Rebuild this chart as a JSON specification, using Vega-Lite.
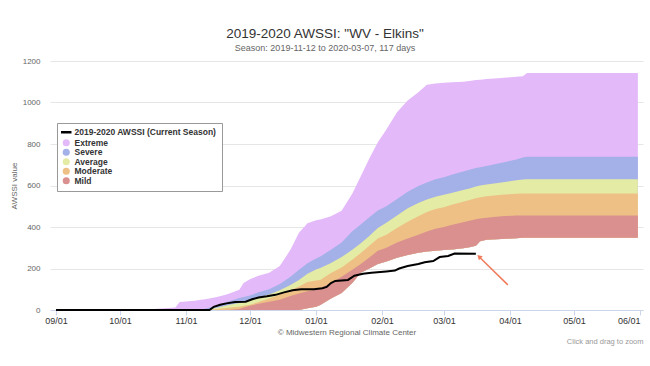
{
  "$schema": "https://vega.github.io/schema/vega-lite/v6.json",
  "width": 593,
  "height": 249,
  "autosize": {"type": "none"},
  "padding": {"left": 50, "top": 61, "right": 7, "bottom": 56},
  "background": "white",
  "title": {
    "text": "2019-2020 AWSSI: \"WV - Elkins\"",
    "subtitle": "Season: 2019-11-12 to 2020-03-07, 117 days"
  },
  "config": {
    "font": "Liberation Sans",
    "view": {"stroke": null},
    "title": {"fontSize": 13.5, "fontWeight": "normal", "color": "#333333", "subtitleFontSize": 9, "subtitleColor": "#666666", "anchor": "middle", "dx": -21.5, "offset": 4, "subtitlePadding": 4},
    "axisY": {"domain": false, "ticks": false, "tickSize": 0, "labelFontSize": 8, "labelColor": "#666666", "labelPadding": 10, "gridColor": "#e6e6e6", "titleFontSize": 8, "titleFontWeight": "normal", "titleColor": "#666666", "titlePadding": 4, "tickCount": 6, "format": "d"},
    "axisX": {"grid": false, "domainColor": "#ccd6eb", "tickColor": "#ccd6eb", "tickSize": 5, "labelFontSize": 9, "labelColor": "#333333", "labelPadding": 1, "titleFontSize": 8, "titleFontWeight": "normal", "titleColor": "#666666", "titlePadding": 3}
  },
  "datasets": {
    "bands": [
      {"date": "2019-09-01T00:00:00", "extreme": 0, "severe": 0, "average": 0, "moderate": 0, "mild": 0, "floor": 0},
      {"date": "2019-10-08T00:00:00", "extreme": 0, "severe": 0, "average": 0, "moderate": 0, "mild": 0, "floor": 0},
      {"date": "2019-10-15T00:00:00", "extreme": 4, "severe": 0, "average": 0, "moderate": 0, "mild": 0, "floor": 0},
      {"date": "2019-10-22T00:00:00", "extreme": 8, "severe": 0, "average": 0, "moderate": 0, "mild": 0, "floor": 0},
      {"date": "2019-10-27T00:00:00", "extreme": 12, "severe": 0, "average": 0, "moderate": 0, "mild": 0, "floor": 0},
      {"date": "2019-10-29T00:00:00", "extreme": 38, "severe": 0, "average": 0, "moderate": 0, "mild": 0, "floor": 0},
      {"date": "2019-11-02T00:00:00", "extreme": 42, "severe": 0, "average": 0, "moderate": 0, "mild": 0, "floor": 0},
      {"date": "2019-11-05T00:00:00", "extreme": 45, "severe": 1, "average": 0, "moderate": 0, "mild": 0, "floor": 0},
      {"date": "2019-11-08T00:00:00", "extreme": 50, "severe": 4, "average": 1, "moderate": 0, "mild": 0, "floor": 0},
      {"date": "2019-11-10T00:00:00", "extreme": 52, "severe": 6, "average": 3, "moderate": 0, "mild": 0, "floor": 0},
      {"date": "2019-11-15T00:00:00", "extreme": 62, "severe": 20, "average": 10, "moderate": 4, "mild": 0, "floor": 0},
      {"date": "2019-11-20T00:00:00", "extreme": 75, "severe": 38, "average": 22, "moderate": 10, "mild": 0, "floor": 0},
      {"date": "2019-11-22T00:00:00", "extreme": 82, "severe": 45, "average": 26, "moderate": 12, "mild": 1, "floor": 0},
      {"date": "2019-11-26T00:00:00", "extreme": 98, "severe": 58, "average": 34, "moderate": 16, "mild": 5, "floor": 0},
      {"date": "2019-11-28T00:00:00", "extreme": 130, "severe": 63, "average": 40, "moderate": 20, "mild": 12, "floor": 0},
      {"date": "2019-12-01T00:00:00", "extreme": 148, "severe": 70, "average": 45, "moderate": 25, "mild": 20, "floor": 0},
      {"date": "2019-12-05T00:00:00", "extreme": 165, "severe": 85, "average": 60, "moderate": 38, "mild": 30, "floor": 0},
      {"date": "2019-12-10T00:00:00", "extreme": 180, "severe": 100, "average": 75, "moderate": 55, "mild": 40, "floor": 0},
      {"date": "2019-12-15T00:00:00", "extreme": 212, "severe": 125, "average": 95, "moderate": 75, "mild": 50, "floor": 0},
      {"date": "2019-12-20T00:00:00", "extreme": 290, "severe": 160, "average": 120, "moderate": 95, "mild": 68, "floor": 0},
      {"date": "2019-12-24T00:00:00", "extreme": 372, "severe": 194, "average": 145, "moderate": 113, "mild": 80, "floor": 0},
      {"date": "2019-12-28T00:00:00", "extreme": 418, "severe": 225, "average": 175, "moderate": 135, "mild": 90, "floor": 8},
      {"date": "2020-01-01T00:00:00", "extreme": 432, "severe": 248, "average": 195, "moderate": 142, "mild": 100, "floor": 16},
      {"date": "2020-01-03T00:00:00", "extreme": 436, "severe": 258, "average": 203, "moderate": 145, "mild": 106, "floor": 24},
      {"date": "2020-01-08T00:00:00", "extreme": 452, "severe": 290, "average": 227, "moderate": 178, "mild": 130, "floor": 55},
      {"date": "2020-01-13T00:00:00", "extreme": 478, "severe": 325, "average": 255, "moderate": 205, "mild": 160, "floor": 82},
      {"date": "2020-01-18T00:00:00", "extreme": 560, "severe": 379, "average": 290, "moderate": 242, "mild": 194, "floor": 130},
      {"date": "2020-01-22T00:00:00", "extreme": 645, "severe": 412, "average": 322, "moderate": 275, "mild": 222, "floor": 179},
      {"date": "2020-01-26T00:00:00", "extreme": 730, "severe": 447, "average": 357, "moderate": 310, "mild": 253, "floor": 200},
      {"date": "2020-01-30T00:00:00", "extreme": 808, "severe": 480, "average": 395, "moderate": 345, "mild": 285, "floor": 222},
      {"date": "2020-02-03T00:00:00", "extreme": 870, "severe": 500, "average": 420, "moderate": 363, "mild": 300, "floor": 234},
      {"date": "2020-02-08T00:00:00", "extreme": 953, "severe": 535, "average": 455, "moderate": 395, "mild": 325, "floor": 252},
      {"date": "2020-02-13T00:00:00", "extreme": 1010, "severe": 570, "average": 490, "moderate": 425, "mild": 345, "floor": 265},
      {"date": "2020-02-18T00:00:00", "extreme": 1050, "severe": 597, "average": 516, "moderate": 452, "mild": 363, "floor": 276},
      {"date": "2020-02-22T00:00:00", "extreme": 1085, "severe": 615, "average": 533, "moderate": 472, "mild": 378, "floor": 282},
      {"date": "2020-02-26T00:00:00", "extreme": 1092, "severe": 630, "average": 546, "moderate": 487, "mild": 392, "floor": 286},
      {"date": "2020-03-01T00:00:00", "extreme": 1095, "severe": 640, "average": 555, "moderate": 495, "mild": 400, "floor": 289},
      {"date": "2020-03-05T00:00:00", "extreme": 1098, "severe": 653, "average": 565, "moderate": 508, "mild": 411, "floor": 292},
      {"date": "2020-03-10T00:00:00", "extreme": 1100, "severe": 668, "average": 578, "moderate": 522, "mild": 423, "floor": 298},
      {"date": "2020-03-13T00:00:00", "extreme": 1104, "severe": 676, "average": 586, "moderate": 530, "mild": 430, "floor": 302},
      {"date": "2020-03-16T00:00:00", "extreme": 1108, "severe": 684, "average": 595, "moderate": 538, "mild": 437, "floor": 310},
      {"date": "2020-03-18T00:00:00", "extreme": 1110, "severe": 688, "average": 600, "moderate": 543, "mild": 441, "floor": 331},
      {"date": "2020-03-21T00:00:00", "extreme": 1113, "severe": 694, "average": 605, "moderate": 548, "mild": 444, "floor": 339},
      {"date": "2020-03-28T00:00:00", "extreme": 1118, "severe": 710, "average": 615, "moderate": 556, "mild": 452, "floor": 342},
      {"date": "2020-04-04T00:00:00", "extreme": 1124, "severe": 725, "average": 625, "moderate": 560, "mild": 455, "floor": 346},
      {"date": "2020-04-07T00:00:00", "extreme": 1126, "severe": 735, "average": 629, "moderate": 561, "mild": 455, "floor": 348},
      {"date": "2020-04-09T00:00:00", "extreme": 1142, "severe": 739, "average": 630, "moderate": 561, "mild": 455, "floor": 348},
      {"date": "2020-05-31T00:00:00", "extreme": 1142, "severe": 739, "average": 630, "moderate": 561, "mild": 455, "floor": 348}
    ],
    "current": [
      {"date": "2019-09-01T00:00:00", "awssi": 0},
      {"date": "2019-11-12T00:00:00", "awssi": 0},
      {"date": "2019-11-14T00:00:00", "awssi": 15},
      {"date": "2019-11-17T00:00:00", "awssi": 25},
      {"date": "2019-11-20T00:00:00", "awssi": 32},
      {"date": "2019-11-24T00:00:00", "awssi": 38},
      {"date": "2019-11-29T00:00:00", "awssi": 40},
      {"date": "2019-12-02T00:00:00", "awssi": 52},
      {"date": "2019-12-05T00:00:00", "awssi": 60},
      {"date": "2019-12-09T00:00:00", "awssi": 66},
      {"date": "2019-12-13T00:00:00", "awssi": 73},
      {"date": "2019-12-17T00:00:00", "awssi": 85},
      {"date": "2019-12-21T00:00:00", "awssi": 95},
      {"date": "2019-12-25T00:00:00", "awssi": 100},
      {"date": "2019-12-31T00:00:00", "awssi": 100},
      {"date": "2020-01-04T00:00:00", "awssi": 105},
      {"date": "2020-01-06T00:00:00", "awssi": 111},
      {"date": "2020-01-08T00:00:00", "awssi": 130},
      {"date": "2020-01-10T00:00:00", "awssi": 140},
      {"date": "2020-01-16T00:00:00", "awssi": 145},
      {"date": "2020-01-19T00:00:00", "awssi": 165},
      {"date": "2020-01-23T00:00:00", "awssi": 175},
      {"date": "2020-01-27T00:00:00", "awssi": 180},
      {"date": "2020-02-03T00:00:00", "awssi": 186},
      {"date": "2020-02-07T00:00:00", "awssi": 190},
      {"date": "2020-02-09T00:00:00", "awssi": 200},
      {"date": "2020-02-13T00:00:00", "awssi": 212},
      {"date": "2020-02-18T00:00:00", "awssi": 222},
      {"date": "2020-02-21T00:00:00", "awssi": 230},
      {"date": "2020-02-25T00:00:00", "awssi": 236},
      {"date": "2020-02-28T00:00:00", "awssi": 255},
      {"date": "2020-03-03T00:00:00", "awssi": 260},
      {"date": "2020-03-06T00:00:00", "awssi": 272},
      {"date": "2020-03-16T00:00:00", "awssi": 271}
    ],
    "arrow": [
      {"ax": "2020-03-31T00:00:00", "ay": 121, "hx": "2020-03-17T12:00:00", "hy": 257}
    ]
  },
  "layer": [
    {
      "data": {"name": "bands"},
      "mark": {"type": "area", "opacity": 1},
      "encoding": {
        "x": {"field": "date", "type": "temporal",
              "scale": {"domain": [{"year": 2019, "month": 8, "date": 29, "hours": 4, "minutes": 30}, {"year": 2020, "month": 6, "date": 2, "hours": 9, "minutes": 50}], "nice": false},
              "axis": {"format": "%m/%d", "tickCount": {"interval": "month", "step": 1}, "title": "© Midwestern Regional Climate Center", "labelFlush": 4, "labelOverlap": false}},
        "y": {"field": "extreme", "type": "quantitative", "title": "AWSSI value", "scale": {"domain": [0, 1200], "nice": false}},
        "y2": {"field": "floor"},
        "color": {"datum": "Extreme",
          "scale": {"domain": ["2019-2020 AWSSI (Current Season)", "Extreme", "Severe", "Average", "Moderate", "Mild"], "range": ["#000000", "#e4b9f9", "#a4b0e8", "#e4eba5", "#eec085", "#d9908f"]},
          "legend": {
            "orient": "none", "legendX": 7, "legendY": 62, "title": null,
            "strokeColor": "#999999", "fillColor": "#ffffff", "padding": 5,
            "labelFontSize": 8.5, "labelFontWeight": "bold", "labelColor": "#333333",
            "rowPadding": 0.5, "labelOffset": 4, "symbolType": "circle", "symbolSize": 50, "symbolStrokeWidth": 0,
            "encoding": {
              "symbols": {
                "shape": {"value": {"expr": "datum.value === '2019-2020 AWSSI (Current Season)' ? 'stroke' : 'circle'"}},
                "stroke": {"value": "#000000"},
                "strokeWidth": {"value": {"expr": "datum.value === '2019-2020 AWSSI (Current Season)' ? 2.5 : 0"}},
                "size": {"value": {"expr": "datum.value === '2019-2020 AWSSI (Current Season)' ? 110 : 50"}}
              }
            }
          }
        }
      }
    },
    {
      "data": {"name": "bands"},
      "mark": {"type": "area", "opacity": 1},
      "encoding": {
        "x": {"field": "date", "type": "temporal", "axis": null},
        "y": {"field": "severe", "type": "quantitative", "title": "AWSSI value"},
        "y2": {"field": "floor"},
        "color": {"datum": "Severe", "scale": {"domain": ["2019-2020 AWSSI (Current Season)", "Extreme", "Severe", "Average", "Moderate", "Mild"], "range": ["#000000", "#e4b9f9", "#a4b0e8", "#e4eba5", "#eec085", "#d9908f"]}}
      }
    },
    {
      "data": {"name": "bands"},
      "mark": {"type": "area", "opacity": 1},
      "encoding": {
        "x": {"field": "date", "type": "temporal", "axis": null},
        "y": {"field": "average", "type": "quantitative", "title": "AWSSI value"},
        "y2": {"field": "floor"},
        "color": {"datum": "Average", "scale": {"domain": ["2019-2020 AWSSI (Current Season)", "Extreme", "Severe", "Average", "Moderate", "Mild"], "range": ["#000000", "#e4b9f9", "#a4b0e8", "#e4eba5", "#eec085", "#d9908f"]}}
      }
    },
    {
      "data": {"name": "bands"},
      "mark": {"type": "area", "opacity": 1},
      "encoding": {
        "x": {"field": "date", "type": "temporal", "axis": null},
        "y": {"field": "moderate", "type": "quantitative", "title": "AWSSI value"},
        "y2": {"field": "floor"},
        "color": {"datum": "Moderate", "scale": {"domain": ["2019-2020 AWSSI (Current Season)", "Extreme", "Severe", "Average", "Moderate", "Mild"], "range": ["#000000", "#e4b9f9", "#a4b0e8", "#e4eba5", "#eec085", "#d9908f"]}}
      }
    },
    {
      "data": {"name": "bands"},
      "mark": {"type": "area", "opacity": 1},
      "encoding": {
        "x": {"field": "date", "type": "temporal", "axis": null},
        "y": {"field": "mild", "type": "quantitative", "title": "AWSSI value"},
        "y2": {"field": "floor"},
        "color": {"datum": "Mild", "scale": {"domain": ["2019-2020 AWSSI (Current Season)", "Extreme", "Severe", "Average", "Moderate", "Mild"], "range": ["#000000", "#e4b9f9", "#a4b0e8", "#e4eba5", "#eec085", "#d9908f"]}}
      }
    },
    {
      "data": {"name": "current"},
      "mark": {"type": "line", "strokeWidth": 2},
      "encoding": {
        "x": {"field": "date", "type": "temporal", "axis": null},
        "y": {"field": "awssi", "type": "quantitative", "title": "AWSSI value"},
        "color": {"datum": "2019-2020 AWSSI (Current Season)", "scale": {"domain": ["2019-2020 AWSSI (Current Season)", "Extreme", "Severe", "Average", "Moderate", "Mild"], "range": ["#000000", "#e4b9f9", "#a4b0e8", "#e4eba5", "#eec085", "#d9908f"]}}
      }
    },
    {
      "data": {"name": "arrow"},
      "mark": {"type": "rule", "color": "#f07a5a", "strokeWidth": 1.5},
      "encoding": {
        "x": {"field": "ax", "type": "temporal", "axis": null},
        "x2": {"field": "hx"},
        "y": {"field": "ay", "type": "quantitative", "title": "AWSSI value"},
        "y2": {"field": "hy"}
      }
    },
    {
      "data": {"name": "arrow"},
      "mark": {"type": "point", "shape": "triangle-up", "filled": true, "size": 30, "angle": 314, "color": "#f07a5a", "opacity": 1},
      "encoding": {
        "x": {"field": "hx", "type": "temporal",
              "axis": {"orient": "bottom", "labels": false, "ticks": false, "domain": false, "grid": false, "title": "Click and drag to zoom", "titleAnchor": "end", "titleFontSize": 7.5, "titleColor": "#999999", "titlePadding": 27}},
        "y": {"field": "hy", "type": "quantitative", "title": "AWSSI value"}
      }
    }
  ],
  "resolve": {"axis": {"x": "independent"}}
}
